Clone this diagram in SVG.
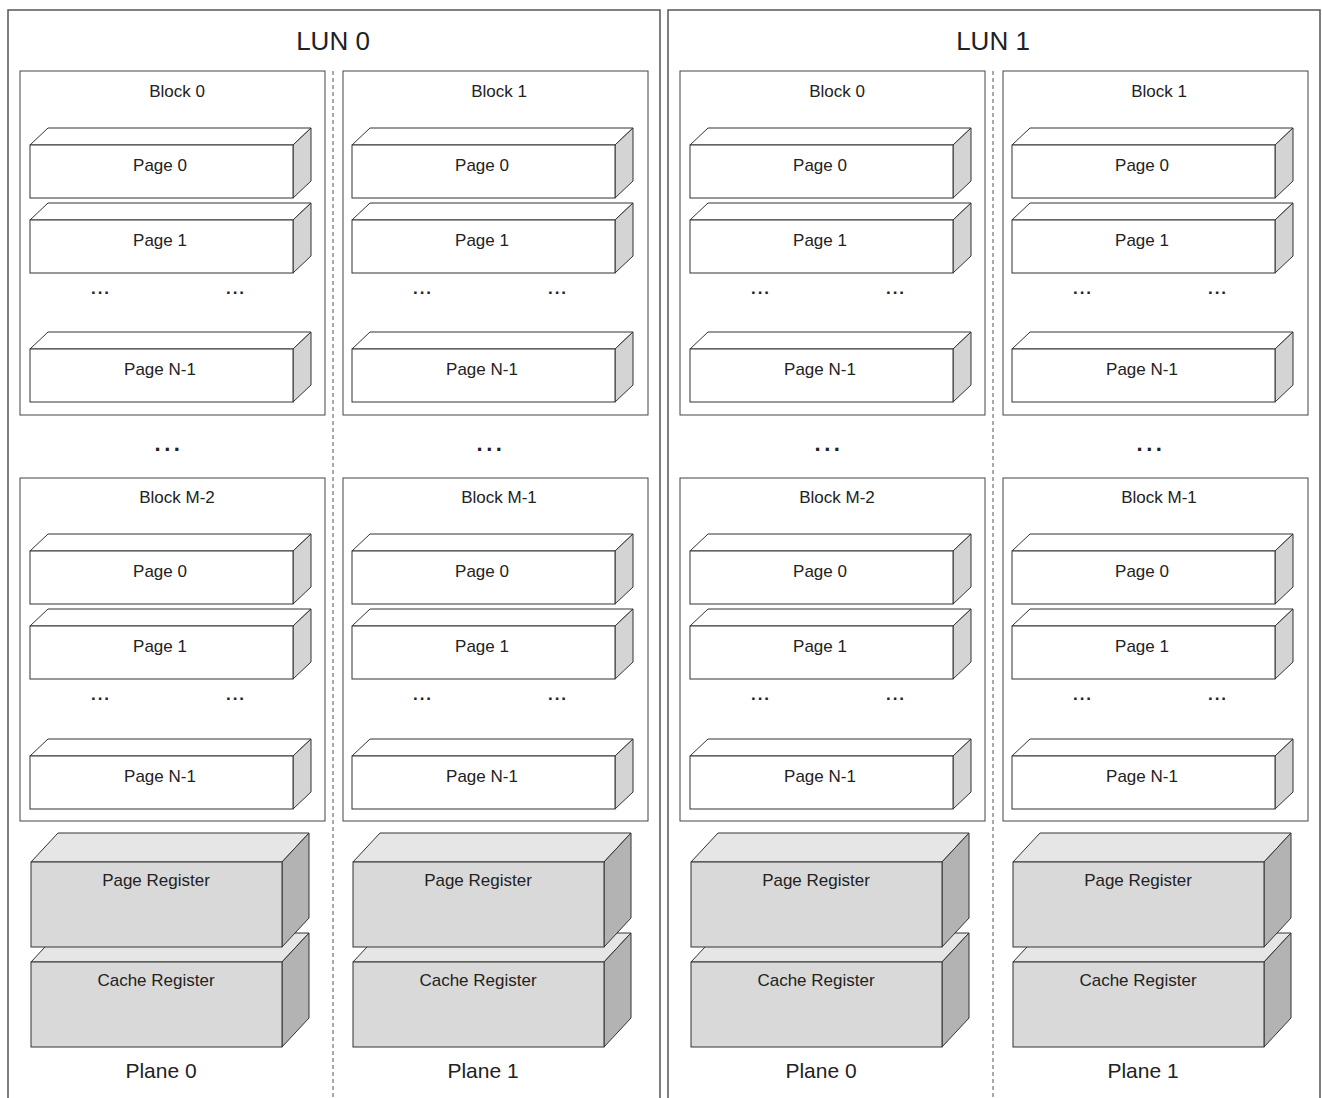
<svg xmlns="http://www.w3.org/2000/svg" xmlns:xlink="http://www.w3.org/1999/xlink" width="1322" height="1098" viewBox="0 0 1322 1098">
<style>
text{font-family:"Liberation Sans",Arial,sans-serif;fill:#222;text-anchor:middle}
.lun{font-size:26px}
.blk{font-size:17px}
.pl{font-size:21px}
.dots{font-size:17px;font-weight:bold;letter-spacing:2px}
.bdots{font-size:22px;font-weight:bold;letter-spacing:3.5px}
.lunbox{fill:#fff;stroke:#555;stroke-width:1.5}
.block{fill:#fff;stroke:#444;stroke-width:1}
.sep{stroke:#555;stroke-width:1;stroke-dasharray:4 3}
.pf{fill:#fff;stroke:#333;stroke-width:1}
.ps{fill:#d4d4d4;stroke:#333;stroke-width:1}
.rf{fill:#d9d9d9;stroke:#333;stroke-width:1}
.rt{fill:#e6e6e6;stroke:#333;stroke-width:1}
.rs{fill:#b3b3b3;stroke:#333;stroke-width:1}
</style>
<defs>
<g id="pg">
<polygon class="pf" points="0,0 18,-17 281,-17 263,0"/>
<polygon class="ps" points="263,0 281,-17 281,36 263,53"/>
<rect class="pf" x="0" y="0" width="263" height="53"/>
</g>
<g id="rg">
<polygon class="rt" points="0,0 27,-29 278,-29 251,0"/>
<polygon class="rs" points="251,0 278,-29 278,56 251,85"/>
<rect class="rf" x="0" y="0" width="251" height="85"/>
</g>
</defs>
<g id="lun0">
<rect class="lunbox" x="8" y="10" width="652" height="1100"/>
<text class="lun" x="333" y="50">LUN 0</text>
</g>
<g id="lun1">
<rect class="lunbox" x="668" y="10" width="652" height="1100"/>
<text class="lun" x="993" y="50">LUN 1</text>
</g>
<g id="connectors">
<line class="sep" x1="333" y1="71" x2="333" y2="1098"/>
<line class="sep" x1="993" y1="71" x2="993" y2="1098"/>
</g>
<!-- LUN0 Plane 0 -->
<g id="l0p0" transform="translate(0,0)">
<g id="l0p0-b0"><rect class="block" x="20" y="71" width="305" height="344"/><text class="blk" x="177" y="97">Block 0</text></g>
<g id="l0p0-b0-pg0"><use xlink:href="#pg" x="30" y="145"/><text class="blk" x="160" y="171">Page 0</text></g>
<g id="l0p0-b0-pg1"><use xlink:href="#pg" x="30" y="220"/><text class="blk" x="160" y="246">Page 1</text></g>
<text class="dots" x="101" y="294">...</text><text class="dots" x="236" y="294">...</text>
<g id="l0p0-b0-pgn"><use xlink:href="#pg" x="30" y="349"/><text class="blk" x="160" y="375">Page N-1</text></g>
<text class="bdots" x="169" y="451">...</text>
<g id="l0p0-b1"><rect class="block" x="20" y="478" width="305" height="343"/><text class="blk" x="177" y="503">Block M-2</text></g>
<g id="l0p0-b1-pg0"><use xlink:href="#pg" x="30" y="551"/><text class="blk" x="160" y="577">Page 0</text></g>
<g id="l0p0-b1-pg1"><use xlink:href="#pg" x="30" y="626"/><text class="blk" x="160" y="652">Page 1</text></g>
<text class="dots" x="101" y="700">...</text><text class="dots" x="236" y="700">...</text>
<g id="l0p0-b1-pgn"><use xlink:href="#pg" x="30" y="756"/><text class="blk" x="160" y="782">Page N-1</text></g>
<g id="l0p0-cache"><use xlink:href="#rg" x="31" y="962"/><text class="blk" x="156" y="986">Cache Register</text></g>
<g id="l0p0-page"><use xlink:href="#rg" x="31" y="862"/><text class="blk" x="156" y="886">Page Register</text></g>
<text class="pl" x="161" y="1078">Plane 0</text>
</g>
<!-- LUN0 Plane 1 -->
<g id="l0p1" transform="translate(322,0)">
<g id="l0p1-b0"><rect class="block" x="21" y="71" width="305" height="344"/><text class="blk" x="177" y="97">Block 1</text></g>
<g id="l0p1-b0-pg0"><use xlink:href="#pg" x="30" y="145"/><text class="blk" x="160" y="171">Page 0</text></g>
<g id="l0p1-b0-pg1"><use xlink:href="#pg" x="30" y="220"/><text class="blk" x="160" y="246">Page 1</text></g>
<text class="dots" x="101" y="294">...</text><text class="dots" x="236" y="294">...</text>
<g id="l0p1-b0-pgn"><use xlink:href="#pg" x="30" y="349"/><text class="blk" x="160" y="375">Page N-1</text></g>
<text class="bdots" x="169" y="451">...</text>
<g id="l0p1-b1"><rect class="block" x="21" y="478" width="305" height="343"/><text class="blk" x="177" y="503">Block M-1</text></g>
<g id="l0p1-b1-pg0"><use xlink:href="#pg" x="30" y="551"/><text class="blk" x="160" y="577">Page 0</text></g>
<g id="l0p1-b1-pg1"><use xlink:href="#pg" x="30" y="626"/><text class="blk" x="160" y="652">Page 1</text></g>
<text class="dots" x="101" y="700">...</text><text class="dots" x="236" y="700">...</text>
<g id="l0p1-b1-pgn"><use xlink:href="#pg" x="30" y="756"/><text class="blk" x="160" y="782">Page N-1</text></g>
<g id="l0p1-cache"><use xlink:href="#rg" x="31" y="962"/><text class="blk" x="156" y="986">Cache Register</text></g>
<g id="l0p1-page"><use xlink:href="#rg" x="31" y="862"/><text class="blk" x="156" y="886">Page Register</text></g>
<text class="pl" x="161" y="1078">Plane 1</text>
</g>
<!-- LUN1 Plane 0 -->
<g id="l1p0" transform="translate(660,0)">
<g id="l1p0-b0"><rect class="block" x="20" y="71" width="305" height="344"/><text class="blk" x="177" y="97">Block 0</text></g>
<g id="l1p0-b0-pg0"><use xlink:href="#pg" x="30" y="145"/><text class="blk" x="160" y="171">Page 0</text></g>
<g id="l1p0-b0-pg1"><use xlink:href="#pg" x="30" y="220"/><text class="blk" x="160" y="246">Page 1</text></g>
<text class="dots" x="101" y="294">...</text><text class="dots" x="236" y="294">...</text>
<g id="l1p0-b0-pgn"><use xlink:href="#pg" x="30" y="349"/><text class="blk" x="160" y="375">Page N-1</text></g>
<text class="bdots" x="169" y="451">...</text>
<g id="l1p0-b1"><rect class="block" x="20" y="478" width="305" height="343"/><text class="blk" x="177" y="503">Block M-2</text></g>
<g id="l1p0-b1-pg0"><use xlink:href="#pg" x="30" y="551"/><text class="blk" x="160" y="577">Page 0</text></g>
<g id="l1p0-b1-pg1"><use xlink:href="#pg" x="30" y="626"/><text class="blk" x="160" y="652">Page 1</text></g>
<text class="dots" x="101" y="700">...</text><text class="dots" x="236" y="700">...</text>
<g id="l1p0-b1-pgn"><use xlink:href="#pg" x="30" y="756"/><text class="blk" x="160" y="782">Page N-1</text></g>
<g id="l1p0-cache"><use xlink:href="#rg" x="31" y="962"/><text class="blk" x="156" y="986">Cache Register</text></g>
<g id="l1p0-page"><use xlink:href="#rg" x="31" y="862"/><text class="blk" x="156" y="886">Page Register</text></g>
<text class="pl" x="161" y="1078">Plane 0</text>
</g>
<!-- LUN1 Plane 1 -->
<g id="l1p1" transform="translate(982,0)">
<g id="l1p1-b0"><rect class="block" x="21" y="71" width="305" height="344"/><text class="blk" x="177" y="97">Block 1</text></g>
<g id="l1p1-b0-pg0"><use xlink:href="#pg" x="30" y="145"/><text class="blk" x="160" y="171">Page 0</text></g>
<g id="l1p1-b0-pg1"><use xlink:href="#pg" x="30" y="220"/><text class="blk" x="160" y="246">Page 1</text></g>
<text class="dots" x="101" y="294">...</text><text class="dots" x="236" y="294">...</text>
<g id="l1p1-b0-pgn"><use xlink:href="#pg" x="30" y="349"/><text class="blk" x="160" y="375">Page N-1</text></g>
<text class="bdots" x="169" y="451">...</text>
<g id="l1p1-b1"><rect class="block" x="21" y="478" width="305" height="343"/><text class="blk" x="177" y="503">Block M-1</text></g>
<g id="l1p1-b1-pg0"><use xlink:href="#pg" x="30" y="551"/><text class="blk" x="160" y="577">Page 0</text></g>
<g id="l1p1-b1-pg1"><use xlink:href="#pg" x="30" y="626"/><text class="blk" x="160" y="652">Page 1</text></g>
<text class="dots" x="101" y="700">...</text><text class="dots" x="236" y="700">...</text>
<g id="l1p1-b1-pgn"><use xlink:href="#pg" x="30" y="756"/><text class="blk" x="160" y="782">Page N-1</text></g>
<g id="l1p1-cache"><use xlink:href="#rg" x="31" y="962"/><text class="blk" x="156" y="986">Cache Register</text></g>
<g id="l1p1-page"><use xlink:href="#rg" x="31" y="862"/><text class="blk" x="156" y="886">Page Register</text></g>
<text class="pl" x="161" y="1078">Plane 1</text>
</g>
</svg>
